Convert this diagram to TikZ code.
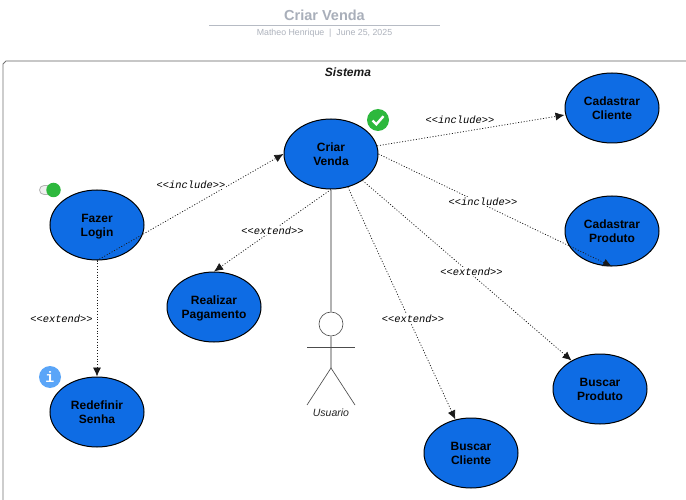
\documentclass[tikz,border=0pt]{standalone}
\usepackage{fontspec}
\setmainfont{Liberation Sans}
\newfontfamily\lblfont{Liberation Mono}
\usetikzlibrary{shapes.geometric,arrows.meta}
\definecolor{ucblue}{HTML}{0E6CE4}
\definecolor{titlegray}{HTML}{A9AFBA}
\definecolor{subgray}{HTML}{AEB3BD}
\definecolor{okgreen}{HTML}{2DB83D}
\definecolor{infoblue}{HTML}{5AA5F8}
\tikzset{
  usecase/.style={ellipse,draw=black,line width=1pt,fill=ucblue,minimum width=94pt,minimum height=70pt,inner sep=0pt,align=center,font=\fontsize{12}{14}\selectfont\bfseries,text=black,text depth=0pt},
  rel/.style={dash pattern=on 1pt off 1.8pt,line width=0.75pt,draw=black!90,-{Latex[length=9pt,width=8pt]}},
  rellabel/.style={font=\fontsize{10.4}{12}\selectfont\lblfont\itshape,fill=white,inner sep=0.5pt,text=black},
  actorline/.style={line width=0.65pt,draw=black!70},
  assoc/.style={line width=1.2pt,draw=black!30},
}
\begin{document}
\begin{tikzpicture}[x=1pt,y=-1pt]
\useasboundingbox (0,0) rectangle (686,500);
\fill[white] (0,0) rectangle (686,500);
% header
\node[font=\fontsize{14.5}{16}\selectfont\bfseries,text=titlegray] (title) at (324.5,15.5) {Criar Venda};
\coordinate (ruleL) at (209,25);
\coordinate (ruleR) at (440,25);
\draw[line width=0.8pt,draw=titlegray!85] (ruleL) -- (ruleR);
\node[font=\fontsize{8.8}{10}\selectfont,text=subgray] (sub) at (324.5,33) {Matheo Henrique\ \ |\ \ June 25, 2025};
% system boundary
\coordinate (sysA) at (3,500);
\coordinate (sysB) at (3,64);
\coordinate (sysC) at (6,61);
\coordinate (sysD) at (686,61);
\draw[line width=0.9pt,draw=black!55] (sysA) -- (sysB) -- (sysC);
\draw[line width=1.4pt,draw=black!22] (sysC) -- (sysD);
\node[font=\fontsize{12}{14}\selectfont\bfseries\itshape,text=black!90] (sys) at (348,72.5) {Sistema};
% use cases
\node[usecase] (criar) at (331,154) {Criar\\Venda};
\node[usecase] (login) at (97,225) {Fazer\\Login};
\node[usecase] (senha) at (97,412) {Redefinir\\Senha};
\node[usecase] (pag) at (214,307) {Realizar\\Pagamento};
\node[usecase] (ccli) at (612,108) {Cadastrar\\Cliente};
\node[usecase] (cprod) at (612,231) {Cadastrar\\Produto};
\node[usecase] (bprod) at (600,389) {Buscar\\Produto};
\node[usecase] (bcli) at (471,453) {Buscar\\Cliente};
% actor
\node[circle,draw=black!70,line width=0.65pt,fill=white,minimum size=24pt,inner sep=0pt] (head) at (331,324) {};
\coordinate (hip) at (331,368);
\coordinate (armL) at (307,347);
\coordinate (armR) at (355,347);
\coordinate (footL) at (307,405);
\coordinate (footR) at (355,405);
\draw[assoc] (criar.south) -- (head.north);
\draw[assoc] (head.south) -- (hip);
\draw[actorline] (armL) -- (armR);
\draw[actorline] (footL) -- (hip) -- (footR);
\node[font=\fontsize{10.5}{12}\selectfont\itshape,text=black!85] (actor) at (331,412.5) {Usuario};
% relations
\draw[rel] (login.south) -- (criar.west);
\draw[rel] (login.south) -- (senha.north);
\draw[rel] (criar.south) -- (pag.north);
\draw[rel] (criar.10) -- (ccli.west|-0,115);
\draw[rel] (criar.east) -- (cprod.south);
\draw[rel] (criar.-40) -- (bprod.135);
\draw[rel] (criar.-63) -- (bcli.115);
% labels
\node[rellabel] (l1) at (191,184.5) {<{}<include>{}>};
\node[rellabel] (l2) at (61.5,318.5) {<{}<extend>{}>};
\node[rellabel] (l3) at (272.5,230.5) {<{}<extend>{}>};
\node[rellabel] (l4) at (460,119.5) {<{}<include>{}>};
\node[rellabel] (l5) at (483,201.5) {<{}<include>{}>};
\node[rellabel] (l6) at (471.5,271.5) {<{}<extend>{}>};
\node[rellabel] (l7) at (413,318.5) {<{}<extend>{}>};
% icons
\node[circle,fill=okgreen,minimum size=22pt,inner sep=0pt] (ok) at (378,120) {};
\draw[white,line width=2.4pt] (372.5,120.5) -- (376.3,124.3) -- (383.5,116.2);
\node[rounded corners=4.5pt,draw=black!30,line width=0.8pt,fill=black!6,minimum width=15pt,minimum height=9pt,inner sep=0pt] (toggle) at (47,190) {};
\node[circle,fill=okgreen,minimum size=14.5pt,inner sep=0pt] (knob) at (53.5,190) {};
\node[circle,fill=infoblue,minimum size=22pt,inner sep=0pt,text=white,font=\fontsize{15}{15}\selectfont\lblfont\bfseries] (info) at (50,377) {i};
\end{tikzpicture}
\end{document}
